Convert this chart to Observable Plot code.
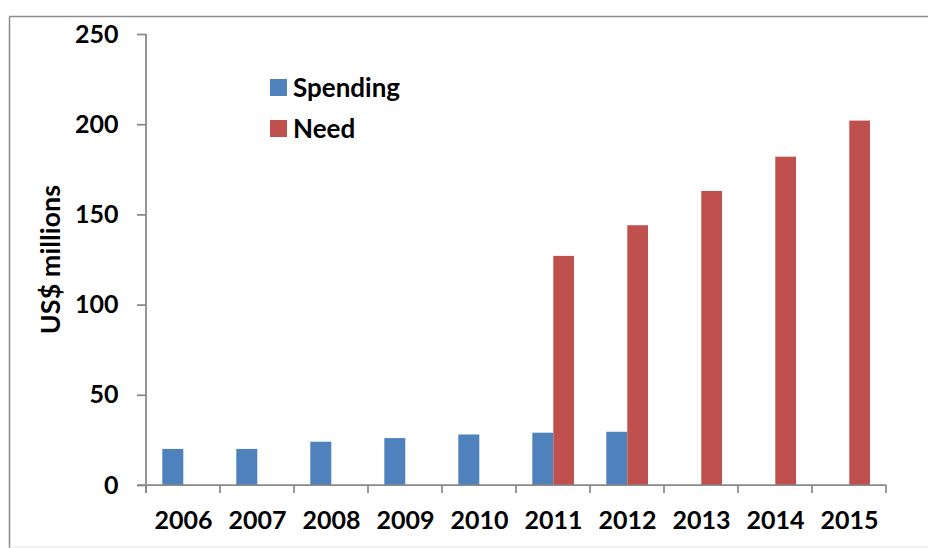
<!DOCTYPE html>
<html>
<head>
<meta charset="utf-8">
<script src="https://cdn.jsdelivr.net/npm/d3@7"></script>
<script src="https://cdn.jsdelivr.net/npm/@observablehq/plot@0.6"></script>
<style>
  html, body { margin: 0; padding: 0; background: #fff; }
  #chart svg { display: block; }
</style>
</head>
<body>
<div id="chart"></div>
<script>
const years = ["2006","2007","2008","2009","2010","2011","2012","2013","2014","2015"];
const spending = [20, 20, 24, 26, 28, 29, 29.5, null, null, null];
const need = [null, null, null, null, null, 127, 144, 163, 182, 202];
const yTicks = [0, 50, 100, 150, 200, 250];
const seriesNames = ["Spending", "Need"];
const seriesColors = ["#4F81BD", "#C0504D"];
const yLabel = "US$ millions";

const spendRows = years.map((y, i) => ({year: y, value: spending[i]})).filter(d => d.value != null);
const needRows = years.map((y, i) => ({year: y, value: need[i]})).filter(d => d.value != null);

const FONT = "Lato, 'DejaVu Sans', sans-serif";
const AXIS = "#898989";

const plot = Plot.plot({
  width: 928,
  height: 548,
  marginLeft: 146,
  marginRight: 42,
  marginTop: 34,
  marginBottom: 63,
  style: {fontFamily: FONT, fontSize: "25px", fontWeight: "bold", color: "#000", background: "#fff"},
  x: {domain: years, padding: 0, axis: null},
  y: {domain: [0, 250], axis: null},
  marks: [
    Plot.barY(spendRows, {x: "year", y: "value", fill: seriesColors[0], insetLeft: 16.3, insetRight: 36.7}),
    Plot.barY(needRows, {x: "year", y: "value", fill: seriesColors[1], insetLeft: 37.3, insetRight: 16}),
    Plot.axisY({ticks: yTicks, label: null, tickSize: 9, tickPadding: 19, stroke: AXIS, strokeWidth: 1.75, fill: "#000", fontSize: 25, fontWeight: "bold"}),
    Plot.axisX({label: null, tickSize: 0, tickPadding: 26, fill: "#000", fontSize: 25, fontWeight: "bold"})
  ]
});

const svg = d3.select(plot);
const xs = plot.scale("x");
const ys = plot.scale("y");
const bw = xs.bandwidth;
const y0 = ys.apply(0);
const yTop = ys.apply(250);

// y axis line
svg.append("line")
  .attr("x1", xs.apply(years[0])).attr("x2", xs.apply(years[0]))
  .attr("y1", yTop).attr("y2", y0 + 8)
  .attr("stroke", AXIS).attr("stroke-width", 1.75);

// x axis line and tick marks at band edges
const edges = years.map(y => xs.apply(y)).concat([xs.apply(years[years.length - 1]) + bw]);
svg.append("g").selectAll("line").data(edges).join("line")
  .attr("x1", d => d).attr("x2", d => d)
  .attr("y1", y0).attr("y2", y0 + 8)
  .attr("stroke", AXIS).attr("stroke-width", 1.75);
svg.append("line")
  .attr("x1", edges[0] - 9).attr("x2", edges[edges.length - 1])
  .attr("y1", y0).attr("y2", y0)
  .attr("stroke", AXIS).attr("stroke-width", 1.75);

// y label
svg.append("text")
  .attr("transform", `translate(49,${(y0 + yTop) / 2}) rotate(-90)`)
  .attr("text-anchor", "middle")
  .attr("dominant-baseline", "central")
  .attr("font-family", FONT).attr("font-size", 27).attr("font-weight", "bold")
  .attr("fill", "#000")
  .text(yLabel);

// legend
const leg = svg.append("g");
seriesNames.forEach((name, i) => {
  const ty = 79 + i * 41;
  leg.append("rect").attr("x", 270).attr("y", ty).attr("width", 17).attr("height", 17).attr("fill", seriesColors[i]);
  leg.append("text").attr("x", 293).attr("y", ty + 18)
    .attr("text-anchor", "start")
    .attr("font-family", FONT).attr("font-size", 26).attr("font-weight", "bold").attr("fill", "#000")
    .text(name);
});

// outer frame
svg.append("line").attr("x1", 9.5).attr("x2", 9.5).attr("y1", 16.5).attr("y2", 548).attr("stroke", "#8c8c8c").attr("stroke-width", 1.5);
svg.append("line").attr("x1", 9.5).attr("x2", 928).attr("y1", 16.5).attr("y2", 16.5).attr("stroke", "#8c8c8c").attr("stroke-width", 1.5);
svg.append("line").attr("x1", 9.5).attr("x2", 928).attr("y1", 547).attr("y2", 547).attr("stroke", "#e6e6e6").attr("stroke-width", 1);

document.getElementById("chart").appendChild(plot);
</script>
</body>
</html>
